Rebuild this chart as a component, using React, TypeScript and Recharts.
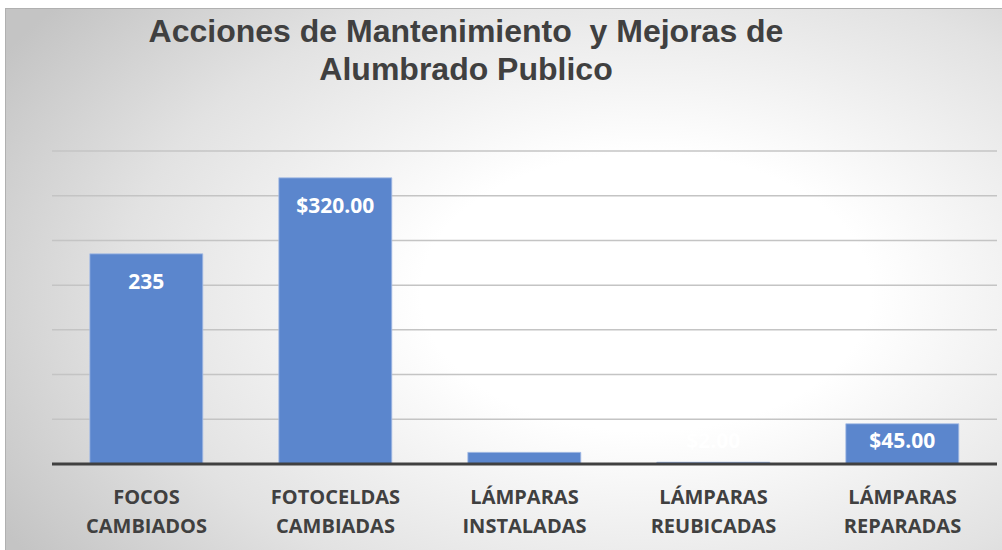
import React from "react";
import { BarChart, Bar, XAxis, YAxis, CartesianGrid, LabelList } from "recharts";

const categories = ["FOCOS\nCAMBIADOS", "FOTOCELDAS\nCAMBIADAS", "LÁMPARAS\nINSTALADAS", "LÁMPARAS\nREUBICADAS", "LÁMPARAS\nREPARADAS"];
const values = [235, 320, 13, 2, 45];
const valueLabels = ["235", "$320.00", "", "$2.00", "$45.00"];
const yTicks = [0, 50, 100, 150, 200, 250, 300, 350];
const titleLines = ["Acciones de Mantenimiento  y Mejoras de", "Alumbrado Publico"];

const data = categories.map((c, i) => ({ name: c, value: values[i], label: valueLabels[i] }));

const Tick = (props: any) => {
  const { x, y, payload } = props;
  const lines = String(payload.value).split("\n");
  return (
    <g>
      {lines.map((l: string, i: number) => (
        <text key={i} x={x} y={y + 32 + i * 29} textAnchor="middle" fill="#404040"
          style={{ fontFamily: "'Open Sans', sans-serif", fontWeight: 700, fontSize: 20 }}>
          {l}
        </text>
      ))}
    </g>
  );
};

const ValueLabel = (props: any) => {
  const { x, y, width, height, index } = props;
  const txt = valueLabels[index];
  if (!txt) return null;
  const base = y + height;
  const cy = Math.min(y + 27, base - 24);
  return (
    <text x={x + width / 2} y={cy} textAnchor="middle" dominantBaseline="central" fill="#ffffff"
      style={{ fontFamily: "'Open Sans', sans-serif", fontWeight: 700, fontSize: 21 }}>
      {txt}
    </text>
  );
};

export default function App() {
  return (
    <div style={{ position: "absolute", left: 0, top: 0, width: 1002, height: 550, background: "#ffffff", overflow: "hidden" }}>
      <div style={{
        position: "absolute", left: 5, top: 8, width: 1000, height: 545,
        borderTop: "1px solid #b0b0b0", borderLeft: "1px solid #b0b0b0",
        background: "radial-gradient(ellipse 75% 85% at 64% 52%, #ffffff 0%, #ffffff 30%, #e2e2e2 70%, #c4c4c4 100%)",
      }} />
      <div style={{ position: "absolute", left: 0, top: 12, width: 932, textAlign: "center", fontFamily: "'Liberation Sans', Arial, sans-serif", fontWeight: 700, fontSize: 32, lineHeight: "38px", color: "#404040", whiteSpace: "pre" }}>
        {titleLines.map((t, i) => <div key={i}>{t}</div>)}
      </div>
      <div style={{ position: "absolute", left: 0, top: 0 }}>
        <BarChart width={1002} height={550} data={data} margin={{ top: 151, right: 5, bottom: 0, left: 52 }} barCategoryGap="20%">
          <CartesianGrid vertical={false} stroke="#c4c4c4" strokeWidth={1.5} />
          <YAxis hide domain={[0, 350]} ticks={yTicks} />
          <XAxis dataKey="name" height={86} axisLine={{ stroke: "#404040", strokeWidth: 3 }} tickLine={false} tick={<Tick />} interval={0} />
          <Bar dataKey="value" fill="#5b86cd" stroke="#a9bfe6" strokeWidth={0.8} isAnimationActive={false}>
            <LabelList dataKey="label" content={<ValueLabel />} />
          </Bar>
        </BarChart>
      </div>
    </div>
  );
}
